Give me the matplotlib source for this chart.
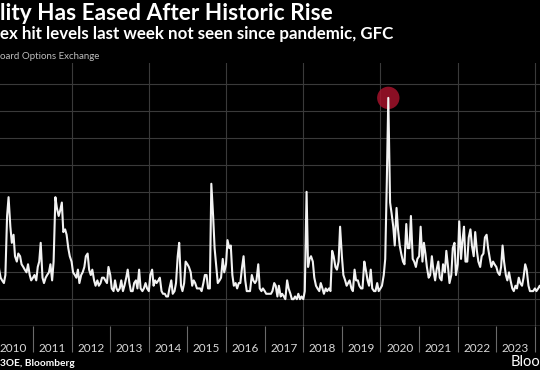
import numpy as np
import pandas as pd
import matplotlib
matplotlib.use("Agg")
import matplotlib.pyplot as plt
import matplotlib.dates as mdates

# Cboe volatility index, daily highs, two points per month
vix_2010 = [20, 24, 27, 21, 18, 17, 16, 19, 41, 48, 37, 31, 34, 26, 24, 27, 26, 23, 22, 21, 20, 23, 19, 17]
vix_2011 = [18, 19, 17, 22, 24, 31, 18, 16, 18, 19, 20, 23, 17, 24, 48, 44, 41, 43, 46, 35, 36, 34, 29, 26]
vix_2012 = [24, 20, 19, 18, 21, 16, 19, 20, 22, 26, 27, 21, 19, 21, 17, 15, 17, 15, 16, 18, 18, 17, 16, 22]
vix_2013 = [19, 14, 13, 17, 14, 13, 14, 17, 13, 15, 18, 21, 16, 13, 13, 16, 17, 14, 21, 14, 13, 14, 16, 14]
vix_2014 = [13, 19, 21, 15, 17, 16, 17, 18, 13, 12, 12, 11, 11, 14, 17, 12, 13, 16, 26, 31, 15, 13, 16, 24]
vix_2015 = [23, 22, 20, 15, 17, 16, 14, 14, 14, 13, 16, 19, 19, 14, 14, 53, 41, 29, 22, 16, 17, 18, 25, 20]
vix_2016 = [23, 32, 29, 30, 19, 15, 16, 14, 16, 16, 22, 26, 17, 13, 13, 13, 19, 17, 16, 17, 23, 14, 13, 14]
vix_2017 = [13, 12, 12, 12, 12, 13, 16, 15, 11, 15, 11, 12, 11, 10, 17, 14, 12, 10, 10, 11, 10, 12, 10, 11]
vix_2018 = [10, 13, 50, 22, 25, 26, 24, 18, 15, 14, 13, 16, 14, 12, 14, 13, 14, 13, 28, 26, 22, 21, 24, 37]
vix_2019 = [26, 19, 17, 15, 16, 17, 14, 13, 21, 17, 17, 15, 14, 14, 24, 21, 17, 15, 21, 14, 13, 13, 16, 13]
vix_2020 = [14, 15, 19, 25, 54, 85, 46, 42, 37, 30, 44, 36, 30, 27, 24, 23, 38, 29, 29, 41, 25, 24, 22, 25]
vix_2021 = [26, 37, 24, 31, 27, 22, 18, 19, 26, 21, 17, 21, 24, 18, 17, 23, 20, 28, 22, 16, 19, 29, 31, 19]
vix_2022 = [23, 39, 25, 32, 37, 24, 24, 33, 36, 30, 26, 35, 28, 24, 22, 26, 27, 33, 34, 29, 25, 22, 24, 23]
vix_2023 = [22, 20, 19, 22, 30, 24, 19, 17, 20, 17, 14, 13, 15, 14, 18, 16, 15, 18, 23, 21, 15, 13, 13, 13]
vix_2024 = [14, 13, 14, 15, 14]

vix = (vix_2010 + vix_2011 + vix_2012 + vix_2013 + vix_2014 + vix_2015 + vix_2016
       + vix_2017 + vix_2018 + vix_2019 + vix_2020 + vix_2021 + vix_2022 + vix_2023 + vix_2024)
dates = pd.date_range("2010-01-01", periods=len(vix), freq="SMS")

title = "lity Has Eased After Historic Rise"
subtitle = "ex hit levels last week not seen since pandemic, GFC"
source_top = "oard Options Exchange"
source_bottom = "3OE, Bloomberg"
brand = "Bloo"

BG = "black"
GRID = "#3a3a3a"
W, H = 540, 370

fig = plt.figure(figsize=(W / 100, H / 100), dpi=100, facecolor=BG)
ax = fig.add_axes([0, (H - 326) / H, 1, (326 - 63) / H], facecolor=BG)

ax.plot(dates, vix, color="#f2f2f2", lw=1.5, zorder=3)

# red dot on the pandemic peak
imax = int(np.argmax(vix))
ax.scatter([dates[imax]], [vix[imax]], s=260, color="#a3122b", alpha=0.85,
           edgecolors="none", zorder=2)

ax.set_xlim(pd.Timestamp("2010-02-23"), pd.Timestamp("2024-02-18"))
ax.set_ylim(0, 98)

ax.set_yticks(range(10, 100, 10))
ax.yaxis.grid(True, color=GRID, lw=0.8)
ax.tick_params(axis="y", left=False, labelleft=False)
for yr in range(2012, 2026, 2):
    ax.axvline(pd.Timestamp(f"{yr}-01-01"), color=GRID, lw=0.8, zorder=1)
ax.axhline(0, color="#9a9a9a", lw=1.0, zorder=4)
ax.set_axisbelow(True)

for s in ax.spines.values():
    s.set_visible(False)

ax.xaxis.set_major_locator(mdates.YearLocator())
ax.xaxis.set_major_formatter(plt.NullFormatter())
ax.xaxis.set_minor_locator(mdates.MonthLocator(bymonth=7))
ax.xaxis.set_minor_formatter(mdates.DateFormatter("%Y"))
ax.tick_params(axis="x", which="major", length=19, width=0.8, color="#6a6a6a", direction="out")
ax.tick_params(axis="x", which="minor", length=0, pad=12, labelsize=8.5, labelcolor="#d8d8d8")
for lab in ax.get_xticklabels(minor=True):
    lab.set_family("Lato")

fig.text(0, 1 - 19.5 / H, title, color="white", fontsize=16.3, fontweight="bold",
         family="Lato", va="baseline", ha="left")
fig.text(0, 1 - 38.5 / H, subtitle, color="white", fontsize=12.2, fontweight="bold",
         family="Lato", va="baseline", ha="left")
fig.text(0, 1 - 59 / H, source_top, color="#bdbdbd", fontsize=7,
         family="Lato", va="baseline", ha="left")
fig.text(0, 1 - 366 / H, source_bottom, color="white", fontsize=7.3, fontweight="bold",
         family="Lato", va="baseline", ha="left")
fig.text(1.0, 1 - 366 / H, brand, color="white", fontsize=10.5,
         family="Lato", va="baseline", ha="right")

fig.savefig("out.png", dpi=100, facecolor=BG)
